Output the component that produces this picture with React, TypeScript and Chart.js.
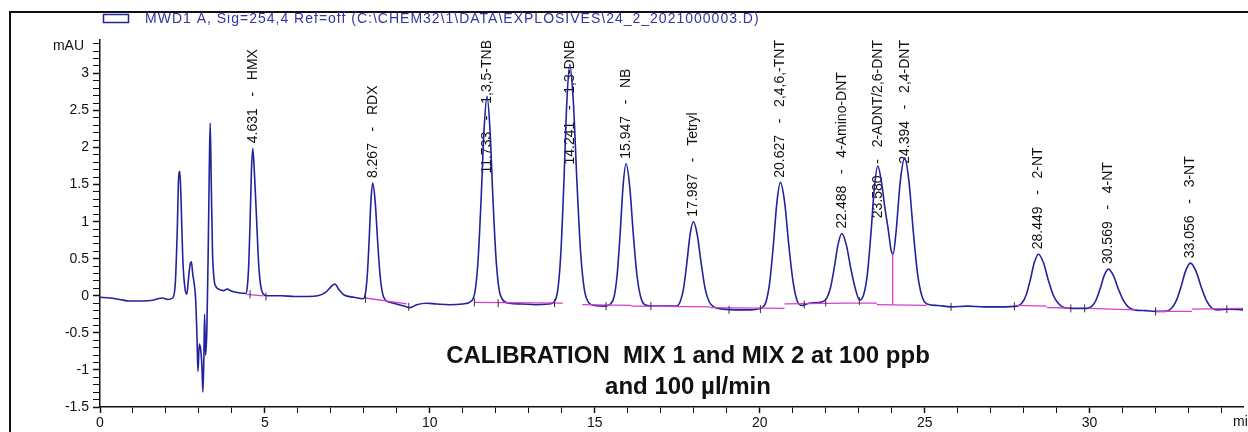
import React, { useEffect, useRef } from "react";
import { Chart, registerables } from "chart.js";

Chart.register(...registerables);

// ---- Signal trace (min, mAU) ----
const retentionTime = [
  0.0, 0.3, 0.6, 0.9, 1.3, 1.6, 1.75, 1.9, 2.05, 2.2,
  2.28, 2.34, 2.38, 2.42, 2.46, 2.51, 2.57, 2.63, 2.68, 2.73,
  2.77, 2.81, 2.86, 2.9, 2.94, 2.97, 3.01, 3.05, 3.09, 3.12,
  3.15, 3.17, 3.2, 3.24, 3.28, 3.31, 3.34, 3.37, 3.41, 3.46,
  3.52, 3.6, 3.75, 3.85, 4.0, 4.2, 4.42, 4.47, 4.51, 4.55,
  4.59, 4.631, 4.68, 4.75, 4.81, 4.87, 4.94, 5.05, 5.5, 5.9,
  6.3, 6.6, 6.85, 7.0, 7.12, 7.25, 7.4, 7.7, 7.98, 8.047,
  8.102, 8.157, 8.212, 8.267, 8.342, 8.417, 8.492, 8.567, 8.66, 8.9,
  9.15, 9.4, 9.6, 9.9, 10.2, 10.6, 11.0, 11.263, 11.373, 11.463,
  11.553, 11.643, 11.733, 11.823, 11.913, 12.003, 12.093, 12.203, 12.4, 12.8,
  13.2, 13.6, 13.771, 13.881, 13.971, 14.061, 14.151, 14.241, 14.351, 14.461,
  14.571, 14.681, 14.811, 15.0, 15.3, 15.477, 15.587, 15.677, 15.767, 15.857,
  15.947, 16.057, 16.167, 16.277, 16.387, 16.517, 16.8, 17.1, 17.467, 17.587,
  17.687, 17.787, 17.887, 17.987, 18.107, 18.227, 18.347, 18.467, 18.61, 18.9,
  19.3, 19.7, 20.067, 20.197, 20.305, 20.412, 20.52, 20.627, 20.755, 20.882,
  21.01, 21.137, 21.29, 21.5, 21.9, 22.028, 22.143, 22.258, 22.373, 22.488,
  22.623, 22.758, 22.893, 23.03, 23.16, 23.265, 23.37, 23.475, 23.58, 23.685,
  23.79, 23.9, 23.98, 24.04, 24.13, 24.26, 24.394, 24.524, 24.654, 24.784,
  24.914, 25.07, 25.4, 25.8, 26.3, 26.8, 27.3, 27.8, 27.949, 28.074,
  28.199, 28.324, 28.449, 28.599, 28.749, 28.899, 29.049, 29.23, 29.5, 29.92,
  30.069, 30.194, 30.319, 30.444, 30.569, 30.719, 30.869, 31.019, 31.169, 31.35,
  31.7, 32.0, 32.3, 32.476, 32.621, 32.766, 32.911, 33.056, 33.221, 33.386,
  33.551, 33.716, 33.9, 34.2, 34.65,
];
const signal = [
  -0.02, -0.03, -0.05, -0.07, -0.07, -0.06, -0.04, -0.03, -0.05, -0.03,
  0.15, 0.85, 1.55, 1.68, 1.25, 0.5, 0.12, 0.02, 0.22, 0.42,
  0.46, 0.3, 0.15, -0.05, -0.55, -1.02, -0.65, -0.72, -0.95, -1.3,
  -0.8, -0.25, -0.8, -0.45, 0.6, 1.6, 2.33, 1.6, 0.6, 0.22,
  0.12, 0.09, 0.07, 0.09, 0.06, 0.04, 0.03, 0.14, 0.43, 1.0,
  1.67, 1.99, 1.67, 1.0, 0.43, 0.14, 0.03, 0.0, 0.0, -0.01,
  -0.01, 0.0, 0.05, 0.12, 0.16, 0.08, 0.01, -0.02, -0.04, 0.035,
  0.27, 0.73, 1.27, 1.52, 1.27, 0.73, 0.27, 0.03, -0.06, -0.1,
  -0.13, -0.16, -0.12, -0.1, -0.11, -0.12, -0.11, -0.07, 0.07, 0.49,
  1.3, 2.24, 2.69, 2.24, 1.3, 0.52, 0.1, -0.05, -0.1, -0.11,
  -0.12, -0.11, -0.08, 0.09, 0.58, 1.51, 2.6, 3.12, 2.6, 1.51,
  0.58, 0.09, -0.09, -0.13, -0.14, -0.11, -0.01, 0.28, 0.83, 1.48,
  1.78, 1.48, 0.83, 0.28, -0.01, -0.12, -0.14, -0.14, -0.14, -0.08,
  0.09, 0.43, 0.82, 1.0, 0.82, 0.43, 0.09, -0.08, -0.15, -0.18,
  -0.19, -0.19, -0.16, -0.07, 0.19, 0.68, 1.26, 1.53, 1.26, 0.68,
  0.19, -0.07, -0.13, -0.1, -0.08, -0.034, 0.105, 0.375, 0.69, 0.84,
  0.69, 0.375, 0.105, -0.06, 0.03, 0.3, 0.835, 1.46, 1.75, 1.55,
  1.2, 0.88, 0.62, 0.56, 0.85, 1.54, 1.86, 1.54, 0.87, 0.3,
  0.0, -0.11, -0.13, -0.15, -0.14, -0.15, -0.15, -0.14, -0.098, 0.007,
  0.21, 0.448, 0.56, 0.448, 0.21, 0.007, -0.1, -0.16, -0.17, -0.17,
  -0.14, -0.06, 0.095, 0.275, 0.36, 0.275, 0.095, -0.06, -0.15, -0.19,
  -0.2, -0.21, -0.21, -0.171, -0.073, 0.115, 0.336, 0.44, 0.336, 0.115,
  -0.073, -0.17, -0.19, -0.18, -0.19,
];

// ---- Integration baselines (magenta), segments separated by null ----
const baselineTime = [
  4.45, 4.95, null,
  8.05, 9.3, null,
  11.35, 14.03, null,
  14.62, 16.1, null,
  16.1, 18.5, null,
  18.5, 20.75, null,
  20.75, 22.6, 23.55, null,
  23.55, 25.05, null,
  24.03, 24.03, null,
  27.77, 28.7, null,
  28.7, 29.4, null,
  30.0, 31.4, null,
  32.0, 33.1, null,
  33.1, 34.65,
];
const baselineLevel = [
  0.02, 0.0, null,
  -0.03, -0.11, null,
  -0.09, -0.1, null,
  -0.12, -0.13, null,
  -0.14, -0.15, null,
  -0.16, -0.17, null,
  -0.11, -0.1, -0.1, null,
  -0.12, -0.13, null,
  -0.125, 0.56, null,
  -0.13, -0.14, null,
  -0.16, -0.165, null,
  -0.17, -0.19, null,
  -0.21, -0.21, null,
  -0.18, -0.17,
];

// ---- Integration event marks ----
const eventTime = [4.55, 5.03, 8.05, 9.36, 11.35, 12.07, 13.78, 15.34, 16.7, 19.07, 20.02, 21.35, 22.0, 23.02, 25.8, 27.72, 29.43, 29.85, 32.0, 34.16];
const eventLevel = [0.02, -0.01, -0.04, -0.15, -0.09, -0.1, -0.1, -0.14, -0.14, -0.19, -0.18, -0.12, -0.09, -0.07, -0.15, -0.14, -0.17, -0.17, -0.21, -0.18];

// ---- Peak annotations ----
const peakTime = [4.631, 8.267, 11.733, 14.241, 15.947, 17.987, 20.627, 22.488, 23.58, 24.394, 28.449, 30.569, 33.056];
const peakTimeText = ["4.631", "8.267", "11.733", "14.241", "15.947", "17.987", "20.627", "22.488", "23.580", "24.394", "28.449", "30.569", "33.056"];
const peakName = ["HMX", "RDX", "1,3,5-TNB", "1,3-DNB", "NB", "Tetryl", "2,4,6,-TNT", "4-Amino-DNT", "2-ADNT/2,6-DNT", "2,4-DNT", "2-NT", "4-NT", "3-NT"];
const peakApex = [1.99, 1.52, 2.69, 3.12, 1.78, 1.0, 1.53, 0.84, 1.75, 1.86, 0.56, 0.36, 0.44];

// ---- Axes ----
const xMajorTicks = [0, 5, 10, 15, 20, 25, 30];
const yMajorTicks = [-1.5, -1, -0.5, 0, 0.5, 1, 1.5, 2, 2.5, 3];
const xRange = [0, 34.65];
const yRange = [-1.5, 3.45];
const yUnit = "mAU";
const xUnit = "min";

const legendText = "MWD1 A, Sig=254,4 Ref=off (C:\\CHEM32\\1\\DATA\\EXPLOSIVES\\24_2_2021000003.D)";
const noteLines = ["CALIBRATION  MIX 1 and MIX 2 at 100 ppb", "and 100 \u00b5l/min"];

const FONT = '"Liberation Sans", Arial, Helvetica, sans-serif';
const TRACE = "#22229c";
const PINK = "#d63fd0";

const decorPlugin = {
  id: "decor",
  beforeDraw(chart: any) {
    const { ctx, width, height } = chart;
    ctx.save();
    ctx.fillStyle = "#ffffff";
    ctx.fillRect(0, 0, width, height);
    // outer frame
    ctx.strokeStyle = "#111";
    ctx.lineWidth = 2;
    ctx.beginPath();
    ctx.moveTo(10, height + 2);
    ctx.lineTo(10, 12);
    ctx.lineTo(width + 2, 12);
    ctx.stroke();
    // legend line
    ctx.strokeStyle = TRACE;
    ctx.lineWidth = 1.5;
    ctx.strokeRect(103.5, 14.5, 25, 8);
    ctx.fillStyle = "#3434a6";
    ctx.font = `14px ${FONT}`;
    (ctx as any).letterSpacing = "1px";
    ctx.textBaseline = "middle";
    ctx.textAlign = "left";
    ctx.fillText(legendText, 145, 19);
    ctx.restore();
  },
  beforeDatasetsDraw(chart: any) {
    const { ctx, chartArea, scales } = chart;
    ctx.save();
    ctx.font = `14px ${FONT}`;
    ctx.fillStyle = "#111";
    ctx.textBaseline = "middle";
    ctx.textAlign = "left";
    for (let i = 0; i < peakTime.length; i++) {
      const text = `${peakTimeText[i]}   -   ${peakName[i]}`;
      const w = ctx.measureText(text).width;
      const px = scales.x.getPixelForValue(peakTime[i]);
      const py = scales.y.getPixelForValue(peakApex[i]);
      let start = py - 5;
      if (start - w < chartArea.top) start = chartArea.top + w;
      ctx.save();
      ctx.translate(px, start);
      ctx.rotate(-Math.PI / 2);
      ctx.fillText(text, 0, 0);
      ctx.restore();
    }
    ctx.restore();
  },
  afterDraw(chart: any) {
    const { ctx, chartArea } = chart;
    ctx.save();
    ctx.fillStyle = "#111";
    ctx.font = `14px ${FONT}`;
    ctx.textBaseline = "middle";
    ctx.textAlign = "right";
    ctx.fillText(yUnit, chartArea.left - 16, 46);
    ctx.textAlign = "left";
    ctx.fillText(xUnit, 1233, 422);
    ctx.font = `bold 24px ${FONT}`;
    ctx.textAlign = "center";
    ctx.fillText(noteLines[0], 688, 356);
    ctx.fillText(noteLines[1], 688, 387);
    ctx.restore();
  },
};

export default function App() {
  const canvasRef = useRef<HTMLCanvasElement | null>(null);

  useEffect(() => {
    const canvas = canvasRef.current;
    if (!canvas) return;

    const trace = retentionTime.map((t, i) => ({ x: t, y: signal[i] }));
    const baseline = baselineTime.map((t, i) =>
      t === null ? { x: NaN, y: null } : { x: t, y: baselineLevel[i] }
    );
    const events = eventTime.map((t, i) => ({ x: t, y: eventLevel[i] }));

    const chart = new Chart(canvas, {
      type: "line",
      data: {
        datasets: [
          {
            label: "events",
            type: "scatter",
            data: events,
            pointStyle: "line",
            rotation: 90,
            pointRadius: 4,
            borderColor: "#333",
            borderWidth: 1,
            order: 0,
          } as any,
          {
            label: "baseline",
            data: baseline as any,
            borderColor: PINK,
            borderWidth: 1.3,
            pointRadius: 0,
            spanGaps: false,
            tension: 0,
            order: 1,
          },
          {
            label: legendText,
            data: trace,
            borderColor: TRACE,
            borderWidth: 1.6,
            pointRadius: 0,
            cubicInterpolationMode: "monotone",
            order: 2,
          },
        ],
      },
      options: {
        animation: false,
        responsive: false,
        devicePixelRatio: 1,
        layout: { padding: { top: 40, left: 8, right: 0, bottom: 0 } },
        plugins: {
          legend: { display: false },
          tooltip: { enabled: false },
          title: { display: false },
        },
        scales: {
          x: {
            type: "linear",
            min: xRange[0],
            max: xRange[1],
            afterBuildTicks: (scale: any) => {
              const t: any[] = [];
              for (let v = Math.ceil(xRange[0]); v <= xRange[1]; v++) t.push({ value: v });
              scale.ticks = t;
            },
            afterFit: (scale: any) => {
              scale.height = 25;
            },
            ticks: {
              autoSkip: false,
              maxRotation: 0,
              padding: 2,
              color: "#111",
              font: { family: FONT, size: 14 },
              callback: (value: any) => (xMajorTicks.includes(Number(value)) ? String(value) : ""),
            },
            grid: {
              display: true,
              drawOnChartArea: false,
              drawTicks: true,
              tickLength: 6,
              tickColor: "#111",
              tickWidth: (c: any) => (xMajorTicks.includes(c.tick?.value) ? 1.5 : 1),
            },
            border: { display: true, color: "#111", width: 1.5 },
          },
          y: {
            type: "linear",
            min: yRange[0],
            max: yRange[1],
            afterBuildTicks: (scale: any) => {
              const t: any[] = [];
              for (let k = Math.round(yRange[0] * 10); k <= Math.floor(yRange[1] * 10); k++) t.push({ value: k / 10 });
              scale.ticks = t;
            },
            afterFit: (scale: any) => {
              scale.width = 92;
            },
            ticks: {
              autoSkip: false,
              padding: 4,
              color: "#111",
              font: { family: FONT, size: 14 },
              callback: (value: any) => {
                const v = Math.round(Number(value) * 10) / 10;
                return yMajorTicks.includes(v) ? String(v) : "";
              },
            },
            grid: {
              display: true,
              drawOnChartArea: false,
              drawTicks: true,
              tickLength: 7,
              tickColor: "#111",
              tickWidth: (c: any) => {
                const v = Math.round((c.tick?.value ?? 0) * 10) / 10;
                return yMajorTicks.includes(v) ? 1.5 : 1;
              },
            },
            border: { display: true, color: "#111", width: 1.5 },
          },
        },
      },
      plugins: [decorPlugin],
    });

    return () => chart.destroy();
  }, []);

  return (
    <div style={{ position: "fixed", left: 0, top: 0, width: 1248, height: 432, background: "#fff" }}>
      <canvas ref={canvasRef} width={1248} height={432} style={{ display: "block" }} />
    </div>
  );
}
